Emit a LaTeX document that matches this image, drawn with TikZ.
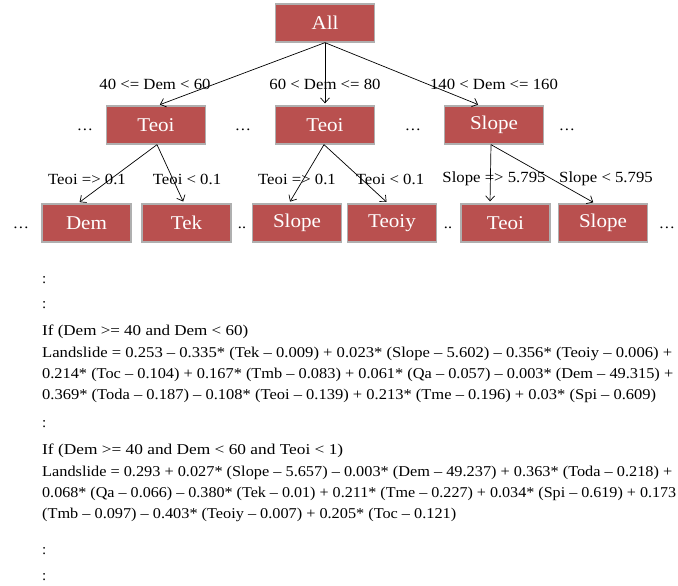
\documentclass[tikz,border=0pt]{standalone}
\usepackage{fontspec}
\usepackage{graphicx}
\setmainfont{Liberation Serif}
\newfontfamily\widefont[FakeStretch=1.08]{Liberation Serif}
\usetikzlibrary{arrows.meta}
\definecolor{boxred}{RGB}{185,80,79}
\definecolor{boxgray}{RGB}{175,175,175}
\newcommand{\fitline}[2]{\resizebox{#1}{\height}{#2}}
\tikzset{
  tbox/.style={draw=boxgray, line width=1.3pt, fill=boxred, text=white, font=\widefont\fontsize{19.5}{21}\selectfont, inner sep=0pt, minimum height=38pt},
  wbox/.style={tbox, minimum width=99pt},
  nbox/.style={tbox, minimum width=89pt},
  elab/.style={font=\widefont\fontsize{15.5}{17}\selectfont, inner sep=0pt},
  arr/.style={-{Straight Barb[length=5pt,width=9pt]}, line width=0.7pt, shorten >=2pt},
  dots/.style={font=\widefont\fontsize{15}{17}\selectfont, inner sep=0pt, anchor=base},
  tline/.style={font=\fontsize{15}{17}\selectfont, inner sep=0pt, anchor=base west}
}
\begin{document}
\begin{tikzpicture}[x=1pt,y=-1pt]
\useasboundingbox (0,0) rectangle (678,586);
% level 1
\node[wbox] (all) at (325,23) {All};
% level 2
\node[wbox] (t1) at (156,125) {Teoi};
\node[wbox] (t2) at (325,125) {Teoi};
\node[wbox] (s1) at (494,125) {Slope};
% level 3
\node[nbox] (dem) at (86.5,223) {Dem};
\node[nbox] (tek) at (186.5,223) {Tek};
\node[nbox] (s2) at (297,223) {Slope};
\node[nbox] (teoiy) at (392,223) {Teoiy};
\node[nbox] (t3) at (505.5,223) {Teoi};
\node[nbox] (s3) at (603,223) {Slope};
% edges level 1
\draw[arr] (all.south) -- ([xshift=2pt]t1.north);
\draw[arr] (all.south) -- (t2.north);
\draw[arr] (all.south) -- ([xshift=-14pt]s1.north);
\node[elab] (l1) at (155,84) {40 <= Dem < 60};
\node[elab] (l2) at (325,84) {60 < Dem <= 80};
\node[elab] (l3) at (494,84) {140 < Dem <= 160};
% edges level 2
\draw[arr] ([xshift=1pt]t1.south) -- ([xshift=-8.5pt]dem.north);
\draw[arr] ([xshift=1pt]t1.south) -- ([xshift=-2.5pt]tek.north);
\draw[arr] ([xshift=-1pt]t2.south) -- ([xshift=-8pt]s2.north);
\draw[arr] ([xshift=-1pt]t2.south) -- ([xshift=-4pt]teoiy.north);
\draw[arr] ([xshift=-3pt]s1.south) -- ([xshift=-15.5pt]t3.north);
\draw[arr] ([xshift=-3pt]s1.south) -- ([xshift=-8pt]s3.north);
\node[elab] (m1) at (87,179) {Teoi => 0.1};
\node[elab] (m2) at (187,179) {Teoi < 0.1};
\node[elab] (m3) at (297,179) {Teoi => 0.1};
\node[elab] (m4) at (390,179) {Teoi < 0.1};
\node[elab] (m5) at (494,179) {Slope => 5.795};
\node[elab] (m6) at (606,179) {Slope < 5.795};
% dots
\node[dots] (d1) at (85,131) {\dots};
\node[dots] (d2) at (243,131) {\dots};
\node[dots] (d3) at (413,131) {\dots};
\node[dots] (d4) at (567,131) {\dots};
\node[dots] (d5) at (21,228) {\dots};
\node[dots] (d6) at (242,228) {..};
\node[dots] (d7) at (448,228) {..};
\node[dots] (d8) at (667,228) {\dots};
% text block
\node[tline] (c1) at (42,283) {:};
\node[tline] (c2) at (42,308) {:};
\node[tline] (a0) at (42,335) {\fitline{206pt}{If (Dem >= 40 and Dem < 60)}};
\node[tline] (a1) at (42,357) {\fitline{630pt}{Landslide = 0.253 – 0.335* (Tek – 0.009) + 0.023* (Slope – 5.602) – 0.356* (Teoiy – 0.006) +}};
\node[tline] (a2) at (42,378) {\fitline{631pt}{0.214* (Toc – 0.104) + 0.167* (Tmb – 0.083) + 0.061* (Qa – 0.057) – 0.003* (Dem – 49.315) +}};
\node[tline] (a3) at (42,399) {\fitline{614pt}{0.369* (Toda – 0.187) – 0.108* (Teoi – 0.139) + 0.213* (Tme – 0.196) + 0.03* (Spi – 0.609)}};
\node[tline] (c3) at (42,427) {:};
\node[tline] (b0) at (42,454) {\fitline{301pt}{If (Dem >= 40 and Dem < 60 and Teoi < 1)}};
\node[tline] (b1) at (42,476) {\fitline{630pt}{Landslide = 0.293 + 0.027* (Slope – 5.657) – 0.003* (Dem – 49.237) + 0.363* (Toda – 0.218) +}};
\node[tline] (b2) at (42,497) {\fitline{634pt}{0.068* (Qa – 0.066) – 0.380* (Tek – 0.01) + 0.211* (Tme – 0.227) + 0.034* (Spi – 0.619) + 0.173}};
\node[tline] (b3) at (42,518) {\fitline{414pt}{(Tmb – 0.097) – 0.403* (Teoiy – 0.007) + 0.205* (Toc – 0.121)}};
\node[tline] (c4) at (42,554) {:};
\node[tline] (c5) at (42,580) {:};
\end{tikzpicture}
\end{document}
